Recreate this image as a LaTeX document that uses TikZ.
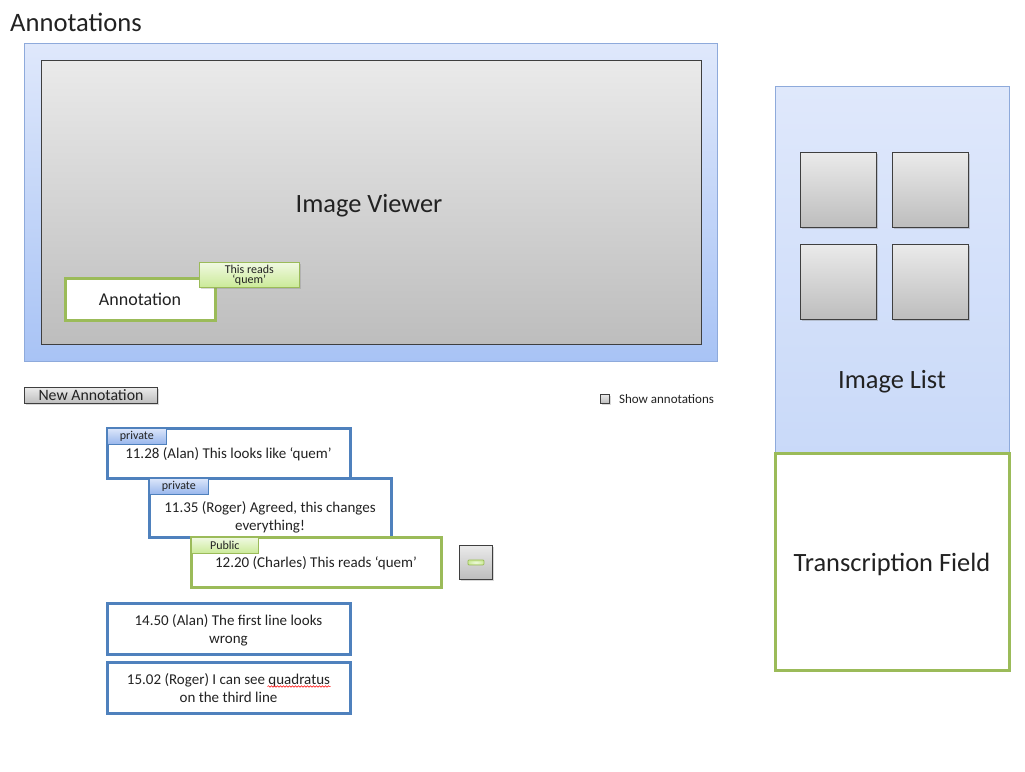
\documentclass[tikz,border=0pt]{standalone}
\usepackage{fontspec}
\setmainfont{Carlito}
\usetikzlibrary{positioning,shadows,calc,decorations.pathmorphing}
\definecolor{panelblue}{HTML}{DFE8FB}
\definecolor{paneldeep}{HTML}{A8C3F5}
\definecolor{panelline}{HTML}{8EAADB}
\definecolor{accentblue}{HTML}{4F81BD}
\definecolor{accentgreen}{HTML}{9BBB59}
\definecolor{greenlight}{HTML}{F0F9E2}
\definecolor{greenmid}{HTML}{CBEA98}
\definecolor{taglight}{HTML}{DCE6FA}
\definecolor{tagdeep}{HTML}{98B6EC}
\definecolor{greylight}{HTML}{EAEAEA}
\definecolor{greydark}{HTML}{BDBDBD}
\definecolor{framegrey}{HTML}{3F3F3F}
\definecolor{inktext}{HTML}{222222}

\begin{document}
\begin{tikzpicture}[
    x=1pt, y=-1pt,
    every node/.style={text=inktext},
    panel/.style={draw=panelline, line width=0.8pt, top color=panelblue, bottom color=paneldeep, anchor=north west, inner sep=0pt},
    viewer/.style={draw=framegrey, line width=1.2pt, top color=greylight, bottom color=greydark, anchor=north west, inner sep=0pt},
    thumb/.style={viewer, minimum width=76pt, minimum height=75pt, drop shadow={shadow xshift=1.5pt, shadow yshift=-1.5pt, opacity=0.35}},
    greenbox/.style={draw=accentgreen, line width=3pt, fill=white, anchor=north west, inner sep=0pt, outer sep=0pt},
    comment/.style={draw=accentblue, line width=3pt, fill=white, anchor=north west, inner sep=0pt, outer sep=0pt, minimum width=243pt},
    cmtext/.style={font=\fontsize{15}{18}\selectfont, align=center},
    tag/.style={draw=accentblue, line width=0.6pt, top color=taglight, bottom color=tagdeep, anchor=north west, inner sep=0pt, minimum width=59pt, minimum height=16pt, font=\fontsize{12}{13}\selectfont},
    greentag/.style={tag, draw=accentgreen, top color=greenlight, bottom color=greenmid},
    button/.style={draw=framegrey, line width=0.9pt, top color=greylight, bottom color=greydark, anchor=north west, inner sep=0pt, drop shadow={shadow xshift=1.2pt, shadow yshift=-1.2pt, opacity=0.3}},
    bigtext/.style={font=\fontsize{26.4}{30}\selectfont, yshift=-3pt},
    spell/.style={draw=red, line width=0.5pt, decorate, decoration={snake, segment length=3pt, amplitude=0.8pt}}
]
\useasboundingbox (0,0) rectangle (1025,771);

\node[anchor=west, inner sep=0pt, font=\fontsize{26.6}{30}\selectfont] (title) at (10,22) {Annotations};

% image viewer
\node[panel, minimum width=693pt, minimum height=318pt] (viewpanel) at (24,43) {};
\node[viewer, minimum width=660pt, minimum height=284pt] (viewer) at (41,60) {};
\node[bigtext] (viewlabel) at (369,203) {Image Viewer};
\node[greenbox, minimum width=150pt, minimum height=42pt, font=\fontsize{18}{21}\selectfont] (annot) at (65,278) {Annotation};
\node[greentag, minimum width=100pt, minimum height=25pt, align=center, font=\fontsize{12}{11}\selectfont, drop shadow={shadow xshift=1.2pt, shadow yshift=-1.2pt, opacity=0.3}] (tip) at (199,262) {This reads\\[-1pt]‘quem’};

% controls
\node[button, minimum width=133pt, minimum height=16pt, font=\fontsize{15.8}{15}\selectfont] (newbtn) at (24,387) {New Annotation};
\node[button, minimum width=9pt, minimum height=9pt] (showbox) at (600,394) {};
\node[right=9pt of showbox, inner sep=0pt, font=\fontsize{13}{14}\selectfont] (showtext) {Show annotations};

% image list
\node[panel, minimum width=234pt, minimum height=367pt, bottom color=panelblue!60!paneldeep] (listpanel) at (775,86) {};
\foreach \col/\row [count=\k] in {800/152, 892/152, 800/244, 892/244}
    \node[thumb] (thumb\k) at (\col,\row) {};
\node[bigtext] (listlabel) at (892,379) {Image List};
\node[greenbox, minimum width=234pt, minimum height=217pt] (transcript) at (775,453) {};
\node[bigtext] (translabel) at (transcript.center) {Transcription Field};

% comment thread
\node[comment, minimum height=50pt] (c1) at (107,428) {};
\node[tag] (t1) at (c1.north west) {private};
\node[cmtext] (c1text) at ($(c1.center)+(0,1)$) {11.28 (Alan) This looks like ‘quem’};

\node[comment, minimum width=242pt, minimum height=59pt] (c2) at (149,478) {};
\node[tag] (t2) at (c2.north west) {private};
\node[cmtext] (c2text) at ($(c2.center)+(0,10)$) {11.35 (Roger) Agreed, this changes\\everything!};

\node[greenbox, minimum width=250pt, minimum height=50pt] (c3) at (191,537) {};
\node[greentag, minimum width=67pt] (t3) at (c3.north west) {Public};
\node[cmtext] (c3text) at ($(c3.center)+(0,1)$) {12.20 (Charles) This reads ‘quem’};

\node[button, minimum width=33pt, minimum height=34pt] (minus) at (459,545) {};
\node[draw=accentgreen, line width=0.8pt, inner color=greenlight, outer color=greenmid, rounded corners=1pt, minimum width=16pt, minimum height=5pt, inner sep=0pt] (minusbar) at (minus.center) {};

\node[comment, minimum height=51pt] (c4) at (107,603) {};
\node[cmtext] (c4text) at ($(c4.center)+(0,2)$) {14.50 (Alan) The first line looks\\wrong};

\node[comment, minimum height=51pt] (c5) at (107,662) {};
\node[cmtext] (c5text) at ($(c5.center)+(0,1)$) {15.02 (Roger) I can see quadratus\\on the third line};
\draw[spell] ($(c5text.center)+(39,-2)$) -- ($(c5text.center)+(102,-2)$);

\end{tikzpicture}
\end{document}
